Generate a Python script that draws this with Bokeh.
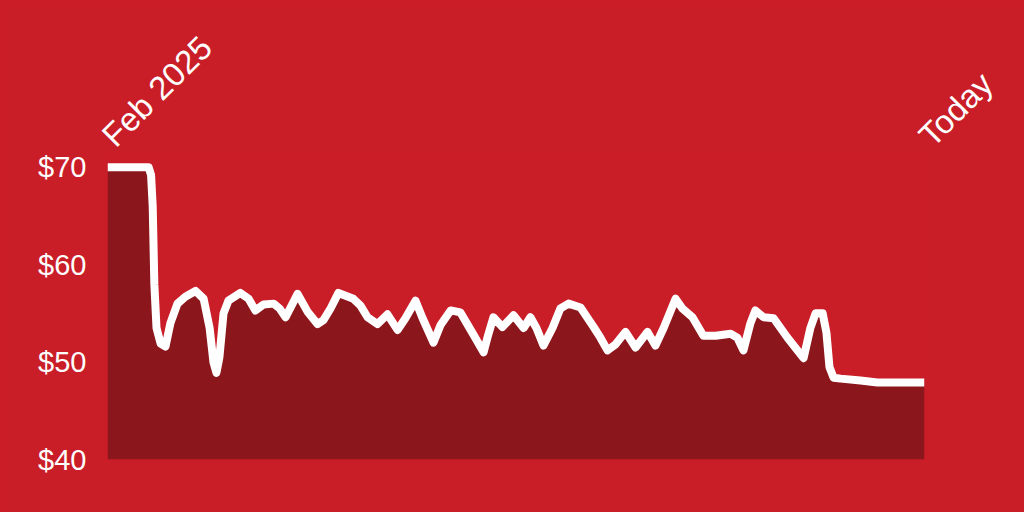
from math import pi
from bokeh.plotting import figure
from bokeh.models import FixedTicker, Range1d, LinearAxis, ColumnDataSource
from bokeh.embed import file_html
from bokeh.resources import INLINE

# days since start (Feb 2025) and price in dollars
days = [0, 15.1, 16.0, 16.6, 17.2, 18.0, 19.5, 21.3, 23.1, 25.7, 28.6, 32.3, 35.3, 37.5, 38.9, 40.0,
        41.1, 42.6, 44.4, 48.8, 51.8, 54.3, 57.3, 61.0, 63.2, 65.4, 69.8, 73.4, 77.1, 79.3,
        81.9, 84.8, 90.3, 92.9, 95.5, 99.1, 102.8, 106.5, 109.4, 113.1, 115.7, 119.7, 122.3,
        126.0, 129.6, 134.0, 138.1, 139.5, 141.7, 145.0, 149.1, 152.8, 155.3, 157.5, 160.1,
        163.4, 166.3, 169.3, 173.7, 178.5, 181.0, 183.6, 186.5, 190.2, 193.9, 198.3, 201.2,
        204.2, 208.6, 211.1, 214.8, 218.8, 223.3, 228.8, 231.3, 233.5, 236.1, 237.9, 240.9,
        244.6, 249.7, 253.4, 255.6, 258.1, 260.0, 262.6, 264.0, 265.1, 266.6, 269.2, 276.5,
        282.7, 300.0]
prices = [70.0, 70.0, 69.2, 66.0, 58.0, 53.5, 51.9, 51.6, 54.0, 56.0, 56.7, 57.3, 56.5, 53.5, 50.0, 48.9,
          50.5, 55.0, 56.3, 57.1, 56.5, 55.3, 55.9, 56.0, 55.5, 54.6, 57.0, 55.2, 53.9, 54.3,
          55.5, 57.1, 56.5, 55.8, 54.6, 53.9, 54.9, 53.3, 54.5, 56.3, 54.5, 52.0, 53.8,
          55.3, 55.1, 53.0, 51.0, 52.5, 54.6, 53.6, 54.8, 53.5, 54.6, 53.5, 51.7,
          53.5, 55.5, 56.0, 55.6, 53.6, 52.5, 51.2, 51.8, 53.1, 51.5, 53.1, 51.7,
          53.5, 56.5, 55.5, 54.6, 52.7, 52.7, 52.9, 52.5, 51.2, 54.0, 55.3, 54.6,
          54.5, 52.5, 51.2, 50.4, 53.5, 55.0, 55.0, 53.0, 49.5, 48.4, 48.3, 48.1,
          47.9, 47.9]
y_ticks = [40, 50, 60, 70]
y_tick_labels = {40: "$40", 50: "$50", 60: "$60", 70: "$70"}
x_ticks = [0, 300]
x_tick_labels = {0: "Feb 2025", 300: "Today"}

BG = "#C91D28"
FILL = "#8B161C"
FONT = "Liberation Sans"

src = ColumnDataSource(dict(x=days, y=prices, base=[40] * len(days)))

p = figure(width=1024, height=512, output_backend="svg", toolbar_location=None,
           x_range=Range1d(0, 300), y_range=Range1d(40, 71),
           x_axis_location=None, y_axis_location=None,
           min_border_left=107, min_border_right=100, min_border_top=157, min_border_bottom=53)
p.background_fill_color = BG
p.border_fill_color = BG
p.outline_line_color = None
p.grid.visible = False

p.varea(x="x", y1="base", y2="y", source=src, fill_color=FILL)
p.line(x="x", y="y", source=src, line_color="white", line_width=8, line_join="round")

yaxis = LinearAxis(ticker=FixedTicker(ticks=y_ticks), major_label_overrides=y_tick_labels)
xaxis = LinearAxis(ticker=FixedTicker(ticks=x_ticks), major_label_overrides=x_tick_labels,
                   major_label_orientation=pi / 4)
for ax in (yaxis, xaxis):
    ax.axis_line_color = None
    ax.major_tick_line_color = None
    ax.minor_tick_line_color = None
    ax.major_label_text_color = "white"
    ax.major_label_text_font = FONT
yaxis.major_label_text_font_size = "29px"
xaxis.major_label_text_font_size = "33px"
yaxis.major_label_standoff = 15
xaxis.major_label_standoff = 11
p.add_layout(yaxis, "left")
p.add_layout(xaxis, "above")

html = file_html(p, INLINE)
html = html.replace("</head>", "<style>html, body { background-color: %s; }</style>\n</head>" % BG, 1)
open("out.html", "w").write(html)
